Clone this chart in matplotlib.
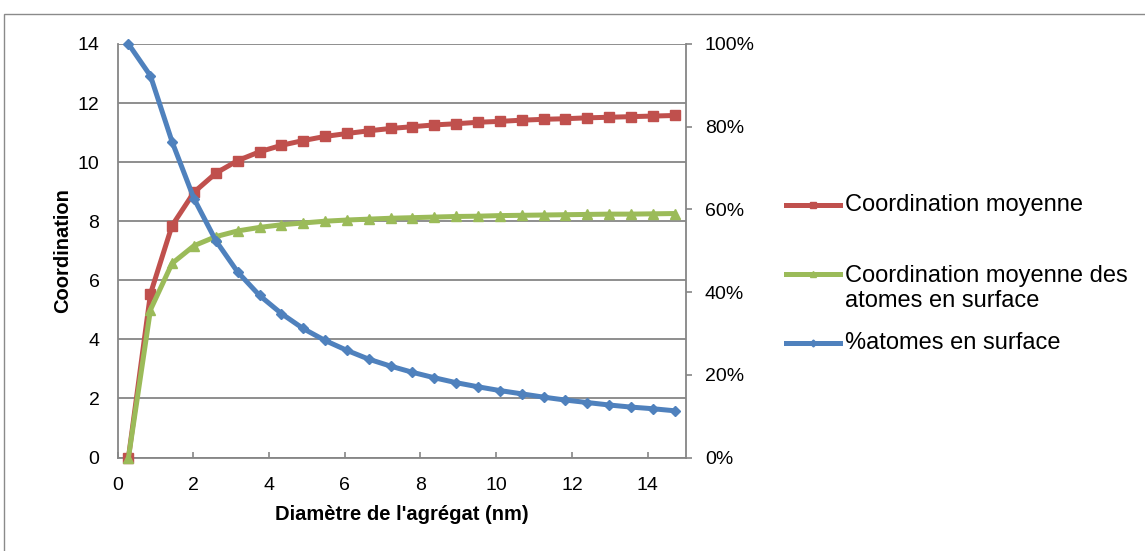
import matplotlib
matplotlib.use("Agg")
import matplotlib.pyplot as plt
from matplotlib.lines import Line2D
from matplotlib.patches import Rectangle
from matplotlib.ticker import FuncFormatter

plt.rcParams['font.family'] = ['Liberation Sans', 'DejaVu Sans']

# ---- data ----
diametre = [0.29, 0.87, 1.44, 2.02, 2.60, 3.17, 3.75, 4.33, 4.90, 5.48, 6.06, 6.63, 7.21,
            7.79, 8.36, 8.94, 9.52, 10.09, 10.67, 11.25, 11.82, 12.40, 12.98, 13.55, 14.13, 14.71]
coord_moy = [0.0, 5.54, 7.85, 8.98, 9.63, 10.05, 10.35, 10.57, 10.73, 10.87, 10.97, 11.06, 11.14,
             11.20, 11.26, 11.30, 11.35, 11.38, 11.42, 11.45, 11.47, 11.50, 11.52, 11.54, 11.56, 11.58]
coord_surf = [0.0, 5.00, 6.57, 7.17, 7.48, 7.67, 7.79, 7.88, 7.94, 8.00, 8.04, 8.07, 8.10,
              8.12, 8.14, 8.16, 8.17, 8.19, 8.20, 8.21, 8.22, 8.23, 8.24, 8.24, 8.25, 8.26]
pct_surf = [1.000, 0.923, 0.764, 0.626, 0.524, 0.449, 0.392, 0.348, 0.312, 0.283, 0.259, 0.238, 0.221,
            0.206, 0.193, 0.181, 0.171, 0.162, 0.154, 0.146, 0.139, 0.133, 0.127, 0.122, 0.118, 0.113]

labels = ['Coordination moyenne', 'Coordination moyenne des\natomes en surface', '%atomes en surface']
xticks = [0, 2, 4, 6, 8, 10, 12, 14]
yticks = [0, 2, 4, 6, 8, 10, 12, 14]
y2ticks = [0, 0.2, 0.4, 0.6, 0.8, 1.0]

RED = '#C0504D'
GREEN = '#9BBB59'
BLUE = '#4F81BD'
GREY = '#868686'

W, H = 1145, 551
fig = plt.figure(figsize=(W / 100, H / 100), dpi=100)

# outer frame
fig.add_artist(Rectangle((4 / W, -0.2), 2, (1 - 14 / H) + 0.2, transform=fig.transFigure,
                         fill=False, ec='#8a8a8a', lw=1.0))

left, right, top, bottom = 117.5, 685.5, 44, 457.5
ax = fig.add_axes([left / W, 1 - bottom / H, (right - left) / W, (bottom - top) / H])
ax.set_xlim(0, 15)
ax.set_ylim(0, 14)
ax.set_xticks(xticks)
ax.set_yticks(yticks)
ax.yaxis.grid(True, color=GREY, lw=1.3)
ax.set_axisbelow(True)
for s in ['top', 'right']:
    ax.spines[s].set_visible(False)
for s in ['left', 'bottom']:
    ax.spines[s].set_color(GREY)
    ax.spines[s].set_linewidth(1.3)
ax.tick_params(axis='x', direction='in', length=4, width=1.2, color=GREY, labelsize=14, pad=14)
ax.tick_params(axis='y', length=0, labelsize=14, pad=13)

ax.plot(diametre, coord_moy, color=RED, lw=3.6, marker='s', ms=7.5, clip_on=False, zorder=3)
ax.plot(diametre, coord_surf, color=GREEN, lw=3.6, marker='^', ms=6.5, clip_on=False, zorder=4)

ax.set_xlabel("Diamètre de l'agrégat (nm)", fontsize=14.5, fontweight='bold', labelpad=8)
ax.set_ylabel('Coordination', fontsize=14.5, fontweight='bold', labelpad=4)

ax2 = ax.twinx()
ax2.set_ylim(0, 1)
ax2.set_yticks(y2ticks)
ax2.yaxis.set_major_formatter(FuncFormatter(lambda v, p: f'{v*100:.0f}%'))
for s in ['top', 'left', 'bottom']:
    ax2.spines[s].set_visible(False)
ax2.spines['right'].set_color(GREY)
ax2.spines['right'].set_linewidth(1.3)
ax2.tick_params(axis='y', direction='out', length=4, width=1.2, color=GREY, labelsize=14, pad=10)
ax2.plot(diametre, pct_surf, color=BLUE, lw=3.6, marker='D', ms=5, clip_on=False, zorder=5)

# legend drawn manually to match handle placement
x0, x1, xt = 786 / W, 840 / W, 845 / W
entries = [(RED, 's', 7, 205, 205), (GREEN, '^', 6.5, 274, 288.5), (BLUE, 'D', 5, 343, 343)]
for (c, m, ms, yl, ytxt), lab in zip(entries, labels):
    fig.add_artist(Line2D([x0, x1], [1 - yl / H, 1 - yl / H], transform=fig.transFigure,
                          color=c, lw=3.6))
    fig.add_artist(Line2D([(x0 + x1) / 2], [1 - yl / H], transform=fig.transFigure,
                          color=c, marker=m, ms=ms * 0.7, lw=0))
    fig.text(xt, 1 - ytxt / H, lab, fontsize=17, va='center', ha='left', linespacing=1.15)

fig.savefig('out.png', dpi=100)
